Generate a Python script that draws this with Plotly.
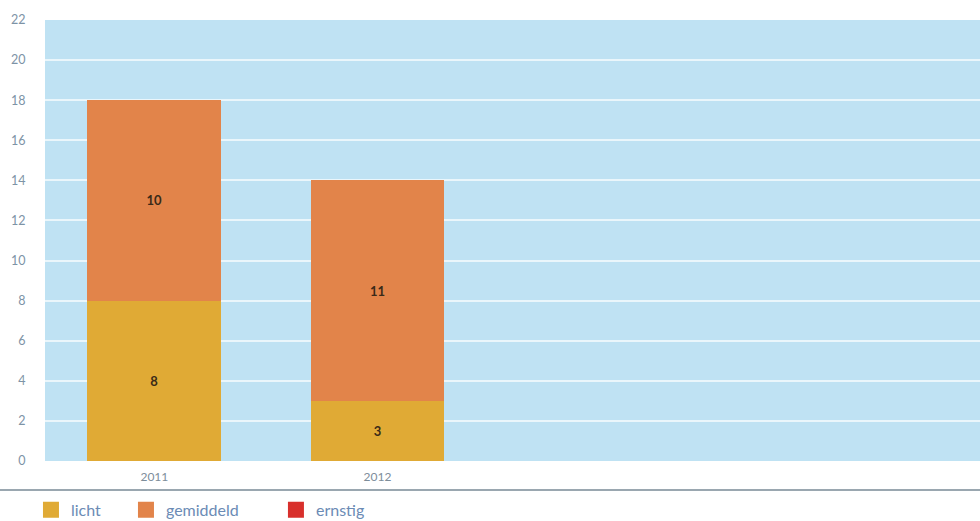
import plotly.graph_objects as go

years = ["2011", "2012"]
licht = [8, 3]
gemiddeld = [10, 11]
ernstig = [0, 0]

series = [
    ("licht", licht, "#e0aa35"),
    ("gemiddeld", gemiddeld, "#e2844a"),
    ("ernstig", ernstig, "#d8302c"),
]
legend_ids = ["legend", "legend2", "legend3"]
legend_x = [-0.015, 0.0866, 0.247]

fig = go.Figure()
for name, vals, col in series:
    fig.add_trace(go.Bar(
        x=years, y=vals, name=name, width=0.6, showlegend=False,
        marker=dict(color=col, line=dict(width=0)),
        text=[str(v) if v else "" for v in vals],
        textposition="inside", insidetextanchor="middle",
        textfont=dict(color="#3a2a18", size=13, family="Lato", weight="bold"),
        textangle=0,
    ))
# legend entries with larger square swatches, each in its own legend box
for (name, vals, col), lid in zip(series, legend_ids):
    fig.add_trace(go.Scatter(
        x=[None], y=[None], mode="markers", name=name, legend=lid,
        marker=dict(symbol="square", size=20, color=col),
    ))

legend_style = dict(orientation="h", xanchor="left", y=-0.072, yanchor="top",
                    font=dict(size=16, color="#6b8bb5"), itemclick=False,
                    bgcolor="rgba(0,0,0,0)")
fig.update_layout(
    barmode="stack",
    width=980, height=521,
    margin=dict(l=45, r=0, t=20, b=60, autoexpand=False),
    paper_bgcolor="white",
    plot_bgcolor="#bfe2f3",
    font=dict(family="Lato", color="#7d93a6", size=12),
    showlegend=True,
    legend=dict(x=legend_x[0], **legend_style),
    legend2=dict(x=legend_x[1], **legend_style),
    legend3=dict(x=legend_x[2], **legend_style),
)
fig.update_xaxes(type="category", range=[-0.49, 3.7], showgrid=False,
                 ticks="outside", ticklen=5, tickcolor="rgba(0,0,0,0)",
                 tickfont=dict(size=12, color="#7d8d9a"), zeroline=False,
                 showline=False)
fig.update_yaxes(range=[0, 22], dtick=2, showgrid=True, gridcolor="#eaf6fb",
                 gridwidth=1.5, zeroline=False, ticks="outside", ticklen=16,
                 tickcolor="rgba(0,0,0,0)",
                 tickfont=dict(size=12.5, color="#7d93a6"))
fig.add_shape(type="line", xref="paper", yref="paper", x0=-0.05, x1=1,
              y0=-0.066, y1=-0.066, line=dict(color="#9aa7b0", width=2))

fig.write_html("out.html")
